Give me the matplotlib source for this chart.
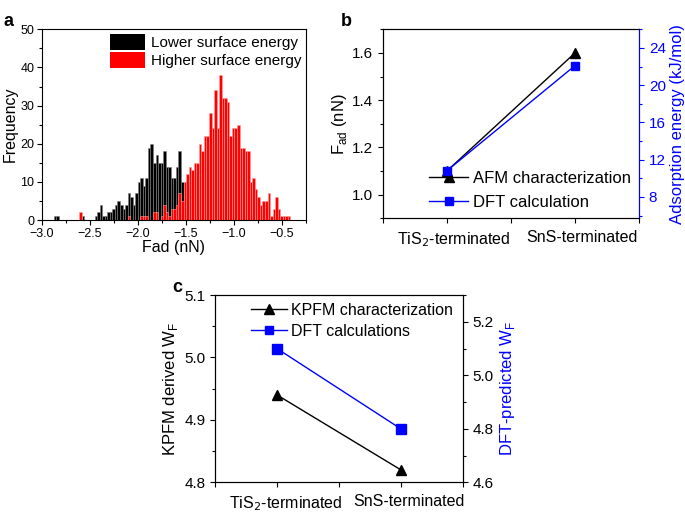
import numpy as np
import matplotlib
matplotlib.use("Agg")
import matplotlib.pyplot as plt
import matplotlib.transforms as mtransforms
from matplotlib.patches import Patch
from matplotlib.lines import Line2D
from matplotlib.ticker import MultipleLocator

plt.rcParams['font.family'] = ['Liberation Sans', 'DejaVu Sans']

# ---- panel a: histogram counts (bin centres start at bin_start, step bin_width)
bin_start = -2.89
bin_width = 0.0265
lower_counts = [0, 1, 1, 0, 0, 0, 0, 0, 0, 0, 0, 0, 1, 0, 0, 0, 0,
                1, 2, 4, 1, 1, 2, 2, 3, 4, 5, 4, 3, 4, 7, 6, 4, 7, 10, 11, 9, 11,
                19, 20, 15, 17, 15, 15, 18, 14, 14, 11, 11, 14, 18, 10, 5, 10, 8,
                0, 0, 0, 0, 0, 0, 0, 0, 0, 0, 0, 0, 0, 0, 0, 0, 0, 0, 0, 0,
                0, 0, 0, 0, 0, 0, 0, 0, 0, 0, 0, 0, 0, 0, 0, 0, 0, 0, 0]
higher_counts = [0, 0, 0, 0, 0, 0, 0, 0, 0, 0, 0, 2,
                 0, 0, 0, 0, 0, 0, 0, 0, 0, 0, 0, 0, 0, 0, 0, 0, 0, 0,
                 1, 0, 0, 0, 0, 1, 1, 1, 0, 0, 2, 2, 0, 1, 4, 2, 1, 3, 3, 4,
                 7, 5, 10, 12, 14, 13, 15, 15, 20, 18, 22, 22, 28, 24, 34, 24,
                 38, 32, 32, 31, 22, 24, 24, 25, 19, 19, 18, 18, 10, 11, 8, 6,
                 4, 5, 5, 7, 1, 3, 6, 3, 1, 1, 1, 1]

# ---- panel b
surfaces = ["TiS$_2$-terminated", "SnS-terminated"]
afm_fad = [1.1, 1.6]
dft_ads_energy = [10.8, 22.1]

# ---- panel c
kpfm_wf = [4.94, 4.82]
dft_wf = [5.10, 4.80]

BLUE = "#0000ff"
TRI_MS = 7
SQ_MS = 5.5

fig = plt.figure(figsize=(6.85, 5.12), dpi=100)


def shift_xlabels(ax, dx_pts):
    # category labels sit a little right of their ticks in the original
    off = mtransforms.ScaledTranslation(dx_pts / 72, 0, fig.dpi_scale_trans)
    for lbl in ax.get_xticklabels():
        lbl.set_transform(lbl.get_transform() + off)


# ================= a =================
ax_a = fig.add_axes([0.0613, 0.5703, 0.3854, 0.3725])
centers = bin_start + bin_width * np.arange(len(lower_counts))
ax_a.bar(centers, lower_counts, width=bin_width, color="black",
         edgecolor="#808080", linewidth=0.4)
ax_a.bar(centers, higher_counts, width=bin_width, color="#ff0000",
         edgecolor="#ffa0a0", linewidth=0.4)
ax_a.set_xlim(-3.0, -0.25)
ax_a.set_ylim(0, 50)
ax_a.xaxis.set_major_locator(MultipleLocator(0.5))
ax_a.xaxis.set_minor_locator(MultipleLocator(0.25))
ax_a.yaxis.set_major_locator(MultipleLocator(10))
ax_a.yaxis.set_minor_locator(MultipleLocator(5))
ax_a.tick_params(which="both", direction="out", labelsize=9, length=3.5, width=0.8, pad=2)
ax_a.tick_params(which="minor", length=2)
ax_a.set_xlabel("Fad (nN)", fontsize=11.5, labelpad=0)
ax_a.set_ylabel("Frequency", fontsize=11.5, labelpad=2)
for s in ax_a.spines.values():
    s.set_linewidth(0.8)
ax_a.legend([Patch(facecolor="black"), Patch(facecolor="#ff0000")],
            ["Lower surface energy", "Higher surface energy"],
            loc="upper right", frameon=False, fontsize=11,
            handlelength=2.3, handleheight=1.2, handletextpad=0.4,
            labelspacing=0.15, borderaxespad=0.1, borderpad=0.2)
fig.text(0.005, 0.975, "a", fontsize=13, fontweight="bold", va="top")

# ================= b =================
ax_b = fig.add_axes([0.5587, 0.5736, 0.3742, 0.3691])
xpos = np.arange(len(surfaces))
ax_b.plot(xpos, afm_fad, color="black", lw=1, marker="^", ms=TRI_MS, zorder=3)
ax_b.set_xlim(-0.5, 1.5)
ax_b.set_ylim(0.9, 1.7)
ax_b.set_xticks([-0.5, 0, 0.5, 1, 1.5])
ax_b.set_xticklabels(["", surfaces[0], "", surfaces[1], ""])
ax_b.yaxis.set_major_locator(MultipleLocator(0.2))
ax_b.yaxis.set_minor_locator(MultipleLocator(0.1))
ax_b.tick_params(which="both", direction="out", length=3.5, width=0.8)
ax_b.tick_params(axis="y", labelsize=11)
ax_b.tick_params(axis="x", labelsize=11.5, pad=5)
ax_b.tick_params(which="minor", length=2)
ax_b.set_ylabel("F$_{\\mathregular{ad}}$ (nN)", fontsize=12, labelpad=2)
shift_xlabels(ax_b, 5)
ax_b2 = ax_b.twinx()
ax_b2.plot(xpos, dft_ads_energy, color=BLUE, lw=1, marker="s", ms=SQ_MS, zorder=3)
ax_b2.set_ylim(5.7, 26)
ax_b2.yaxis.set_major_locator(MultipleLocator(4))
ax_b2.yaxis.set_minor_locator(MultipleLocator(2))
ax_b2.tick_params(which="both", direction="out", length=3.5, width=0.8,
                  colors=BLUE, labelsize=11)
ax_b2.tick_params(which="minor", length=2)
ax_b2.set_ylabel("Adsorption energy (kJ/mol)", fontsize=12, color=BLUE, labelpad=3)
for a in (ax_b, ax_b2):
    for s in a.spines.values():
        s.set_linewidth(0.8)
ax_b2.spines["right"].set_color(BLUE)
handles_b = [Line2D([], [], color="black", lw=1, marker="^", ms=TRI_MS),
             Line2D([], [], color=BLUE, lw=1, marker="s", ms=SQ_MS)]
ax_b.legend(handles_b, ["AFM characterization", "DFT calculation"],
            loc="lower right", bbox_to_anchor=(1.0, 0.0), frameon=False, fontsize=12,
            handlelength=2.3, handletextpad=0.3, labelspacing=0.55, borderaxespad=0.1)
fig.text(0.497, 0.975, "b", fontsize=13, fontweight="bold", va="top")

# ================= c =================
ax_c = fig.add_axes([0.3139, 0.058, 0.3616, 0.3658])
ax_c.plot(xpos, kpfm_wf, color="black", lw=1, marker="^", ms=TRI_MS, zorder=3)
ax_c.set_xlim(-0.5, 1.5)
ax_c.set_ylim(4.8, 5.1)
ax_c.set_xticks([-0.5, 0, 0.5, 1, 1.5])
ax_c.set_xticklabels(["", surfaces[0], "", surfaces[1], ""])
ax_c.yaxis.set_major_locator(MultipleLocator(0.1))
ax_c.yaxis.set_minor_locator(MultipleLocator(0.05))
ax_c.tick_params(which="both", direction="out", length=3.5, width=0.8)
ax_c.tick_params(axis="y", labelsize=11)
ax_c.tick_params(axis="x", labelsize=11.5, pad=5)
ax_c.tick_params(which="minor", length=2)
ax_c.set_ylabel("KPFM derived W$_\\mathregular{F}$", fontsize=12, labelpad=3)
shift_xlabels(ax_c, 6)
ax_c2 = ax_c.twinx()
ax_c2.plot(xpos, dft_wf, color=BLUE, lw=1, marker="s", ms=SQ_MS + 1, zorder=3)
ax_c2.set_ylim(4.6, 5.3)
ax_c2.yaxis.set_major_locator(MultipleLocator(0.2))
ax_c2.yaxis.set_minor_locator(MultipleLocator(0.1))
ax_c2.tick_params(which="both", direction="out", length=3.5, width=0.8, labelsize=11)
ax_c2.tick_params(which="minor", length=2)
ax_c2.set_ylabel("DFT-predicted W$_\\mathregular{F}$", fontsize=12, color=BLUE, labelpad=3)
for a in (ax_c, ax_c2):
    for s in a.spines.values():
        s.set_linewidth(0.8)
handles_c = [Line2D([], [], color="black", lw=1, marker="^", ms=TRI_MS),
             Line2D([], [], color=BLUE, lw=1, marker="s", ms=SQ_MS)]
ax_c.legend(handles_c, ["KPFM characterization", "DFT calculations"],
            loc="upper left", bbox_to_anchor=(0.115, 1.0), frameon=False, fontsize=11.5,
            handlelength=2.2, handletextpad=0.3, labelspacing=0.35, borderaxespad=0.1)
fig.text(0.252, 0.455, "c", fontsize=13, fontweight="bold", va="top")

fig.savefig("out.png", dpi=100)
